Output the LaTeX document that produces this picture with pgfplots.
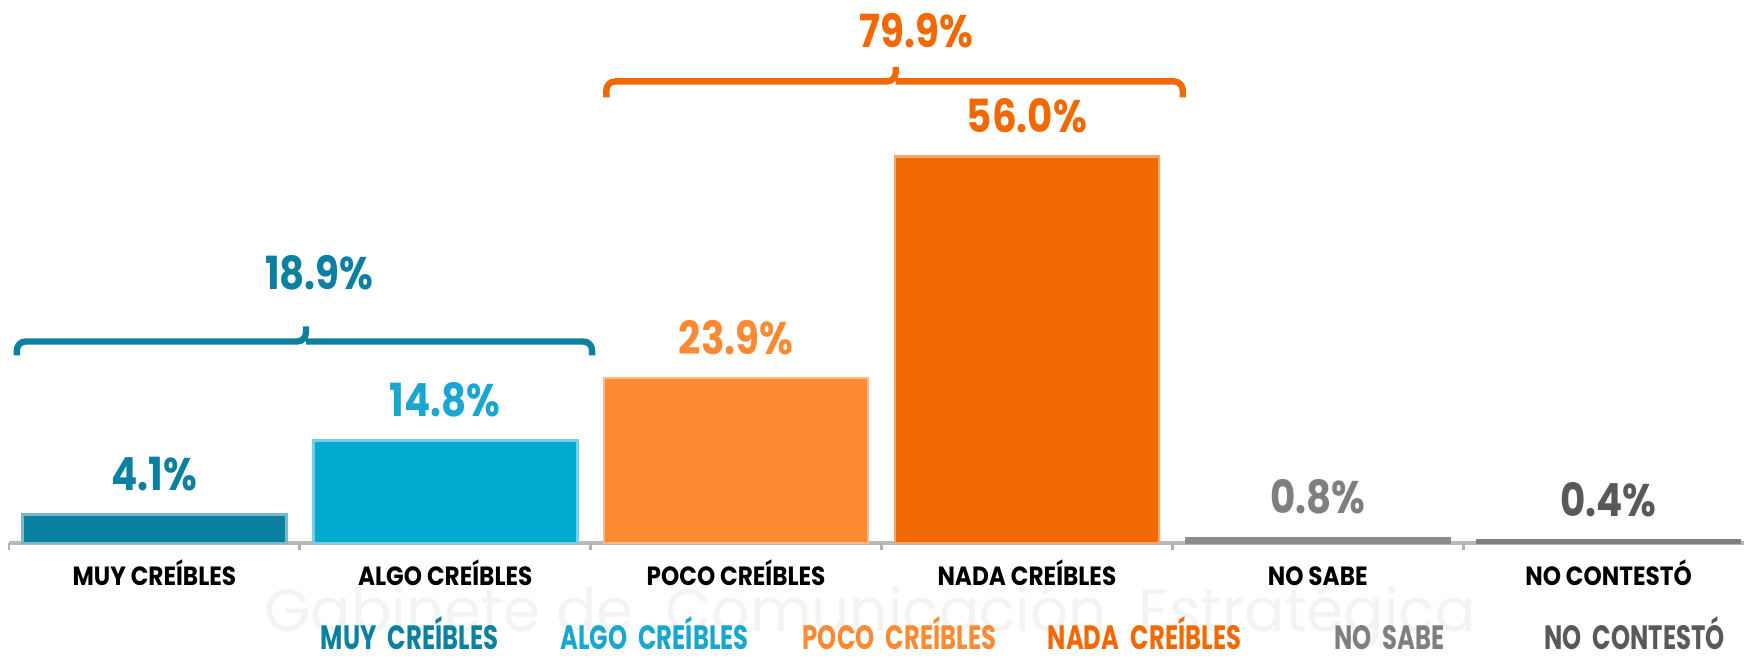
\documentclass[border=0pt]{standalone}
\usepackage{pgfplots}
\pgfplotsset{compat=1.18}
\usepackage{fontspec}
\setmainfont{Poppins}
\newfontfamily\valfont{Poppins}[FakeStretch=0.85]
\newfontfamily\catfont{Poppins}[FakeStretch=0.88]
\newfontfamily\legfont{Poppins}[FakeStretch=0.72, WordSpace=0.6]
\definecolor{cMuy}{RGB}{11,128,160}
\definecolor{cAlgo}{RGB}{0,169,208}
\definecolor{cAlgoT}{RGB}{26,167,207}
\definecolor{cPoco}{RGB}{253,138,50}
\definecolor{cNada}{RGB}{242,105,4}
\definecolor{cNS}{RGB}{127,127,127}
\definecolor{cNC}{RGB}{89,89,89}
\definecolor{cBarNS}{RGB}{140,140,140}
\definecolor{cBarNC}{RGB}{128,128,128}
\definecolor{wm}{RGB}{243,243,243}
\begin{document}
\begin{tikzpicture}[x=0.1mm,y=0.1mm]
\useasboundingbox (0,0) rectangle (1744,658);
\node[text=wm, font=\fontsize{17}{18}\selectfont] at (870,42) {Gabinete de \ Comunicación \ Estratégica};
\begin{axis}[
  at={(0.9mm,11.5mm)}, anchor=south west,
  scale only axis, width=174.5mm, height=54.3mm,
  xmin=-0.5, xmax=5.5, ymin=0, ymax=78.7,
  axis y line=none, axis x line*=bottom,
  x axis line style={draw=gray!55, line width=1.4pt, -},
  xtick={0,1,2,3,4,5},
  xticklabels={MUY CREÍBLES,ALGO CREÍBLES,POCO CREÍBLES,NADA CREÍBLES,NO SABE,NO CONTESTÓ},
  major tick length=0pt,
  extra x ticks={-0.5,0.5,1.5,2.5,3.5,4.5,5.5},
  extra x tick labels={},
  extra x tick style={major tick length=0.7mm, tick align=outside, tick style={draw=gray!60, line width=0.8pt}},
  xticklabel style={font=\catfont\bfseries\fontsize{7.5}{9}\selectfont, text=black, anchor=base, yshift=-4.3mm},
  ybar, bar width=26.4mm, bar shift=0pt,
  /pgf/number format/assume math mode=true,
  nodes near coords={\pgfmathprintnumber[fixed,fixed zerofill,precision=1]{\pgfplotspointmeta}\%},
  nodes near coords style={anchor=south, inner sep=0pt, yshift=2.2mm, font=\valfont\bfseries\fontsize{13}{14}\selectfont},
  clip=false,
  legend image code/.code={},
  legend style={legend columns=6, draw=none, fill=none, at={(0.5805,-0.176)}, anchor=center,
    font=\legfont\bfseries\fontsize{9.6}{10}\selectfont,
    /tikz/every even column/.append style={column sep=0pt},
    /tikz/every odd column/.append style={column sep=0pt},
    nodes={text width=24.5mm, align=center, inner sep=0pt, text height=2.3mm, text depth=0.2mm}},
]
\addplot[fill=cMuy, draw=cMuy!55!white, line width=0.8pt, every node near coord/.append style={text=cMuy}] coordinates {(0,4.1)};
\addlegendentry{\textcolor{cMuy}{MUY CREÍBLES}}
\addplot[fill=cAlgo, draw=cAlgo!55!white, line width=0.8pt, every node near coord/.append style={text=cAlgoT}] coordinates {(1,14.8)};
\addlegendentry{\textcolor{cAlgoT}{ALGO CREÍBLES}}
\addplot[fill=cPoco, draw=cPoco!60!white, line width=0.8pt, every node near coord/.append style={text=cPoco}] coordinates {(2,23.9)};
\addlegendentry{\textcolor{cPoco}{POCO CREÍBLES}}
\addplot[fill=cNada, draw=cNada!60!white, line width=0.8pt, every node near coord/.append style={text=cNada}] coordinates {(3,56.0)};
\addlegendentry{\textcolor{cNada}{NADA CREÍBLES}}
\addplot[fill=cBarNS, draw=cBarNS, line width=0.5pt, every node near coord/.append style={text=cNS}] coordinates {(4,0.8)};
\addlegendentry{\textcolor{cNS}{NO SABE}}
\addplot[fill=cBarNC, draw=cBarNC, line width=0.5pt, every node near coord/.append style={text=cNC}] coordinates {(5,0.4)};
\addlegendentry{\textcolor{cNC}{NO CONTESTÓ}}
% brackets
\draw[cMuy, line width=1.8pt, rounded corners=2.5pt] (axis cs:-0.473,27.2) |- (axis cs:0.521,29.2) -- (axis cs:0.521,31.4);
\draw[cMuy, line width=1.8pt, rounded corners=2.5pt] (axis cs:0.521,29.2) -| (axis cs:1.505,27.2);
\node[text=cMuy, font=\valfont\bfseries\fontsize{13}{14}\selectfont] at (axis cs:0.567,39.2) {18.9\%};
\draw[cNada, line width=1.8pt, rounded corners=2.5pt] (axis cs:1.554,64.6) |- (axis cs:2.549,66.9) -- (axis cs:2.549,69.0);
\draw[cNada, line width=1.8pt, rounded corners=2.5pt] (axis cs:2.549,66.9) -| (axis cs:3.536,64.6);
\node[text=cNada, font=\valfont\bfseries\fontsize{13}{14}\selectfont] at (axis cs:2.62,74.2) {79.9\%};
\end{axis}
\end{tikzpicture}
\end{document}
